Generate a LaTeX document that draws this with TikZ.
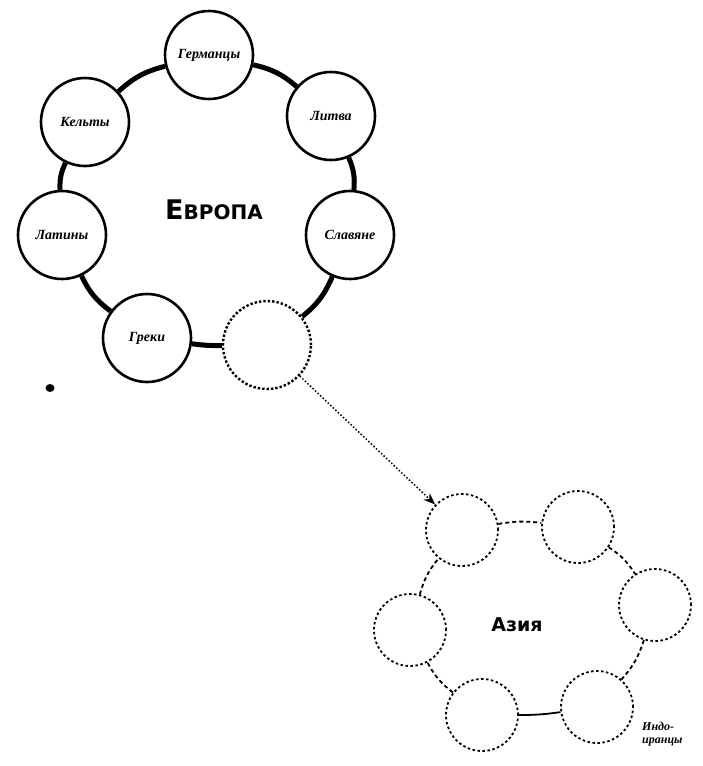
\documentclass[tikz,border=0pt]{standalone}
\usepackage{fontspec}
\setmainfont{Liberation Serif}
\newfontfamily\hdfont{DejaVu Sans}
\usetikzlibrary{arrows.meta}
\begin{document}
\begin{tikzpicture}[x=1pt,y=-1pt,
  tribe/.style={circle,draw=black,line width=2.6pt,minimum size=88pt,inner sep=0pt,
    font=\fontsize{14}{15}\selectfont\bfseries\itshape},
  ghost/.style={circle,draw=black,line width=2.4pt,dotted,minimum size=88pt,inner sep=0pt},
  asiac/.style={circle,draw=black,line width=1.8pt,dash pattern=on 2.5pt off 2.5pt,minimum size=72pt,inner sep=0pt},
  ring/.style={line width=5pt,draw=black},
  asiaring/.style={line width=1.8pt,draw=black,dash pattern=on 4pt off 3pt},
  asialink/.style={line width=1.8pt,draw=black},
  migr/.style={line width=1.5pt,draw=black,dotted,-{Stealth[length=12pt,width=9pt]}},
  title/.style={font=\hdfont\bfseries}
]
\useasboundingbox (0,0) rectangle (703,766);
% Europe ring
\node[tribe] (ger) at (209,55) {Германцы};
\node[tribe] (lit) at (331,116) {Литва};
\node[tribe] (sla) at (350,235) {Славяне};
\node[ghost] (gh) at (267,345) {};
\node[tribe] (gre) at (147,338) {Греки};
\node[tribe] (lat) at (62,235) {Латины};
\node[tribe] (kel) at (85,122) {Кельты};
\node[title] (eur) at (214,210) {\fontsize{27}{27}\selectfont Е\fontsize{20}{20}\selectfont ВРОПА};
\draw[ring] (ger) to[bend left=14] (lit);
\draw[ring] (lit) to[bend left=14] (sla);
\draw[ring] (sla) to[bend left=14] (gh);
\draw[ring] (gh) to[bend left=4] (gre);
\draw[ring] (gre) to[bend left=14] (lat);
\draw[ring] (lat) to[bend left=14] (kel);
\draw[ring] (kel) to[bend left=14] (ger);
% Asia ring
\node[asiac] (a1) at (462,530) {};
\node[asiac] (a2) at (578,527) {};
\node[asiac] (a3) at (655,605) {};
\node[asiac] (a4) at (597,707) {};
\node[asiac] (a5) at (482,715) {};
\node[asiac] (a6) at (410,630) {};
\node[title] (asia) at (517,625) {\fontsize{19}{19}\selectfont Азия};
\draw[asiaring] (a1) to[bend left=8] (a2);
\draw[asiaring] (a2) to[bend left=12] (a3);
\draw[asiaring] (a3) to[bend left=12] (a4);
\draw[asialink] (a4) to[bend left=4] (a5);
\draw[asiaring] (a5) to[bend left=12] (a6);
\draw[asiaring] (a6) to[bend left=12] (a1);
\node[font=\fontsize{12}{13}\selectfont\bfseries\itshape,align=left,anchor=north west,inner sep=0pt] (ii) at (642,722) {Индо-\\иранцы};
% migration arrow
\draw[migr] (gh) -- (a1);
% speck
\fill (50,388) ellipse (4.5pt and 4pt);
\end{tikzpicture}
\end{document}
